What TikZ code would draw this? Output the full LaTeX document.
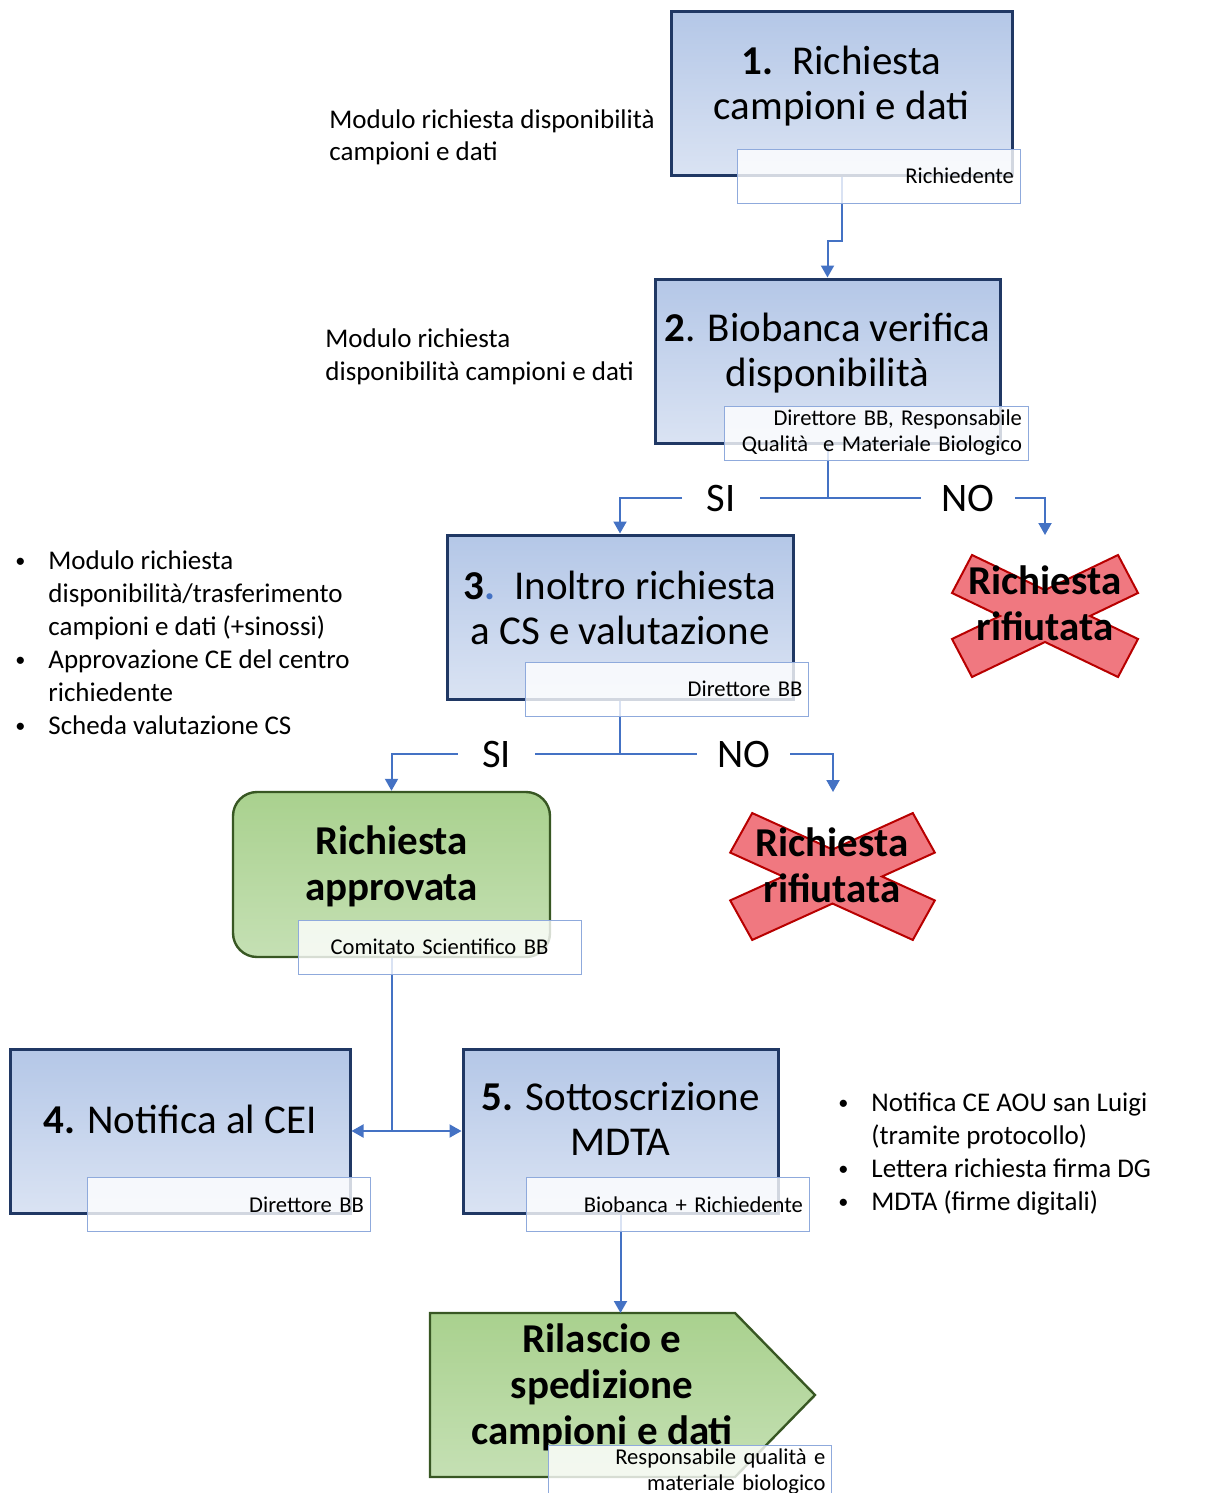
\documentclass[tikz,border=0pt]{standalone}
\usepackage{fontspec}
\setmainfont{Carlito}
\usetikzlibrary{arrows.meta}
\definecolor{blu}{HTML}{4472C4}
\definecolor{blubordo}{HTML}{203864}
\definecolor{blusu}{HTML}{B4C7E7}
\definecolor{blugiu}{HTML}{DAE3F3}
\definecolor{verdebordo}{HTML}{385723}
\definecolor{verdesu}{HTML}{A9D18E}
\definecolor{verdemezzo}{HTML}{E2F0D9}
\definecolor{verdegiu}{HTML}{C5E0B4}
\definecolor{rossobordo}{HTML}{B80000}
\definecolor{rossosu}{HTML}{F07880}
\definecolor{rossomezzo}{HTML}{FFD2D2}
\definecolor{bordoruolo}{HTML}{8FAADC}
\newcommand{\punto}{\raisebox{0.07em}{\scalebox{0.75}{\textbullet}}}

\begin{document}
\begin{tikzpicture}[
    x=0.5pt, y=-0.5pt,
    fase/.style={draw=blubordo, line width=1.5pt, top color=blusu, bottom color=blugiu, minimum height=82pt, inner sep=0pt},
    esito/.style={draw=verdebordo, line width=1.2pt, top color=verdesu, middle color=verdemezzo, bottom color=verdegiu},
    croce/.style={draw=rossobordo, line width=1pt, top color=rossosu, middle color=rossomezzo, bottom color=rossosu},
    titolo/.style={align=center, font=\fontsize{20.5}{22.5}\selectfont},
    grassetto/.style={align=center, font=\fontsize{20.5}{23}\selectfont\bfseries},
    ruolo/.style={draw=bordoruolo, line width=0.5pt, fill=white, fill opacity=0.8, text opacity=1, text width=135.5pt, align=right, inner xsep=3pt, inner ysep=0pt, minimum height=27pt, font=\fontsize{11.3}{13}\selectfont},
    nota/.style={anchor=base west, inner sep=0pt, font=\fontsize{13.5}{16.5}\selectfont},
    scelta/.style={inner sep=0pt, font=\fontsize{20.25}{24}\selectfont},
    freccia/.style={draw=blu, line width=1pt, -{Triangle[width=6.5pt,length=6pt]}},
    linea/.style={draw=blu, line width=1pt},
    rifiuto/.pic={\path[croce] (-93,-23) -- (-73,-61) -- (0,-26) -- (73,-61) -- (93,-23) -- (45,0) -- (93,23) -- (73,61) -- (0,26) -- (-73,61) -- (-93,23) -- (-45,0) -- cycle;}
  ]
    \useasboundingbox (0,0) rectangle (1227,1493);
    \clip (0,0) rectangle (1227,1493);

    \node[fase, minimum width=170.5pt] (b1) at (841.5,93.5) {};
    \node[fase, minimum width=172.5pt] (b2) at (827.5,361) {};
    \node[fase, minimum width=173pt] (b3) at (620,617) {};
    \node[esito, rounded corners=12pt, minimum width=158.5pt, minimum height=82.5pt] (ap) at (391.5,874.5) {};
    \node[fase, minimum width=170pt] (b4) at (180,1131) {};
    \node[fase, minimum width=157.5pt] (b5) at (620.5,1131) {};
    \path[esito] (430,1313) -- (735,1313) -- (815,1395) -- (735,1477) -- (430,1477) -- cycle;
    \pic at (1045,616) {rifiuto};
    \pic[xscale=1.1, yscale=1.04] at (832.5,876.5) {rifiuto};

    \node[titolo] (t1) at ([yshift=3.5pt]b1.center) {\textbf{1.}\ \ Richiesta\\campioni e dati};
    \node[titolo] (t2) at ([yshift=4pt]b2.center) {\textbf{2}. Biobanca verifica\\disponibilità};
    \node[titolo] (t3) at ([yshift=4.5pt]b3.center) {\textbf{3{\color{blu}.}}\ \ Inoltro richiesta\\a CS e valutazione};
    \node[titolo] (t4) at ([yshift=6pt]b4.center) {\textbf{4.} Notifica al CEI};
    \node[titolo] (t5) at ([yshift=6pt]b5.center) {\textbf{5.} Sottoscrizione\\MDTA};
    \node[grassetto] (ta) at ([yshift=4pt]ap.center) {Richiesta\\approvata};
    \node[grassetto] (tr) at (602,1387) {Rilascio e\\spedizione\\campioni e dati};
    \node[grassetto] (x1) at (1045,603) {Richiesta\\rifiutata};
    \node[grassetto] (x2) at (832,865) {Richiesta\\rifiutata};

    \node[scelta, minimum width=38.5pt] (si1) at (721,498) {SI};
    \node[scelta, minimum width=46.5pt] (no1) at (968,498) {NO};
    \node[scelta, minimum width=38.5pt] (si2) at (496.5,754) {SI};
    \node[scelta, minimum width=46.5pt] (no2) at (743.5,754) {NO};
    \coordinate (a1) at (1045,535);
    \coordinate (a2) at (833,792);
    \coordinate (rt) at (620.5,1313);

    \draw[freccia] (b1.south) -- ++(0,64) -| (b2.north);
    \draw[linea] (b2.south) |- (si1.east);
    \draw[linea] (b2.south) |- (no1.west);
    \draw[freccia] (si1.west) -| (b3.north);
    \draw[freccia] (no1.east) -| (a1);
    \draw[linea] (b3.south) |- (si2.east);
    \draw[linea] (b3.south) |- (no2.west);
    \draw[freccia] (si2.west) -| (ap.north);
    \draw[freccia] (no2.east) -| (a2);
    \draw[freccia] (ap.south) |- (b4.east);
    \draw[freccia] (ap.south) |- (b5.west);
    \draw[freccia] (b5.south) -- (rt);

    \node[ruolo] (r1) at (878.5,176) {Richiedente};
    \node[ruolo, text width=146pt] (r2) at (876,433) {Direttore BB, Responsabile\\Qualità\ \ e Materiale Biologico};
    \node[ruolo] (r3) at (667,689) {Direttore BB};
    \node[ruolo, align=center] (ra) at (439.5,947) {Comitato Scientifico BB};
    \node[ruolo] (r4) at (228.5,1204.5) {Direttore BB};
    \node[ruolo] (r5) at (667.5,1204.5) {Biobanca + Richiedente};
    \node[ruolo] (r6) at (690,1472) {Responsabile qualità e\\materiale biologico};

    \node[nota] (n1) at (329,128) {\begin{tabular}[t]{@{}l@{}}Modulo richiesta disponibilità\\campioni e dati\end{tabular}};
    \node[nota] (n2) at (325,347) {\begin{tabular}[t]{@{}l@{}}Modulo richiesta\\disponibilità campioni e dati\end{tabular}};
    \node[nota] (n3) at (15,569) {\begin{tabular}[t]{@{}p{16.5pt}@{}l@{}}\punto & Modulo richiesta\\ & disponibilità/trasferimento\\ & campioni e dati (+sinossi)\\ \punto & Approvazione CE del centro\\ & richiedente\\ \punto & Scheda valutazione CS\end{tabular}};
    \node[nota] (n4) at (838,1111) {\begin{tabular}[t]{@{}p{16.5pt}@{}l@{}}\punto & Notifica CE AOU san Luigi\\ & (tramite protocollo)\\ \punto & Lettera richiesta firma DG\\ \punto & MDTA (firme digitali)\end{tabular}};
  \end{tikzpicture}
\end{document}
